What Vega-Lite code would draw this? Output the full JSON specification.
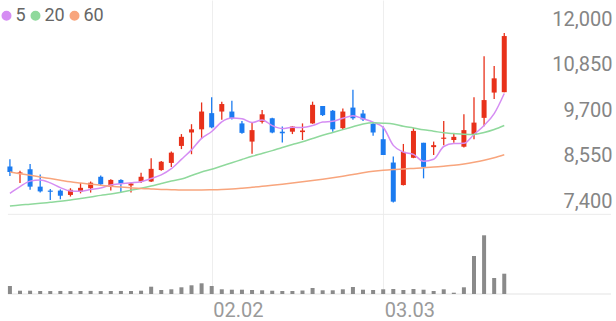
{
  "$schema": "https://vega.github.io/schema/vega-lite/v6.json",
  "width": 616,
  "height": 294,
  "autosize": {"type": "none"},
  "padding": {"left": 0, "top": 0, "right": 0, "bottom": 27},
  "background": "white",
  "config": {"view": {"stroke": null}, "font": "Roboto"},
  "datasets": {
    "k": [
      {"d":0,"date":"01.05","o":8610,"h":8790,"l":8370,"c":8470,"v":400000,"ma5":7930,"ma20":7610,"ma60":8471},
      {"d":1,"date":"01.06","o":8430,"h":8500,"l":8190,"c":8460,"v":165000,"ma5":8100,"ma20":7636,"ma60":8428},
      {"d":2,"date":"01.07","o":8540,"h":8670,"l":8020,"c":8100,"v":165000,"ma5":8240,"ma20":7656,"ma60":8387},
      {"d":3,"date":"01.08","o":8100,"h":8410,"l":7950,"c":7980,"v":150000,"ma5":8270,"ma20":7679,"ma60":8344},
      {"d":4,"date":"01.09","o":8000,"h":8040,"l":7760,"c":7970,"v":148000,"ma5":8196,"ma20":7704,"ma60":8304},
      {"d":5,"date":"01.12","o":8000,"h":8030,"l":7780,"c":7870,"v":152000,"ma5":8076,"ma20":7729,"ma60":8263},
      {"d":6,"date":"01.13","o":7890,"h":8060,"l":7850,"c":8020,"v":145000,"ma5":7988,"ma20":7762,"ma60":8223},
      {"d":7,"date":"01.14","o":7970,"h":8190,"l":7930,"c":8070,"v":150000,"ma5":7982,"ma20":7800,"ma60":8192},
      {"d":8,"date":"01.15","o":8060,"h":8230,"l":7950,"c":8200,"v":155000,"ma5":8026,"ma20":7838,"ma60":8162},
      {"d":9,"date":"01.16","o":8350,"h":8380,"l":8140,"c":8160,"v":146000,"ma5":8064,"ma20":7879,"ma60":8134},
      {"d":10,"date":"01.19","o":8100,"h":8290,"l":8000,"c":8270,"v":150000,"ma5":8144,"ma20":7914,"ma60":8111},
      {"d":11,"date":"01.20","o":8270,"h":8290,"l":7960,"c":8170,"v":152000,"ma5":8174,"ma20":7960,"ma60":8091},
      {"d":12,"date":"01.21","o":8130,"h":8200,"l":7950,"c":8180,"v":149000,"ma5":8196,"ma20":8008,"ma60":8071},
      {"d":13,"date":"01.22","o":8230,"h":8450,"l":8190,"c":8350,"v":165000,"ma5":8226,"ma20":8058,"ma60":8053},
      {"d":14,"date":"01.23","o":8230,"h":8820,"l":8220,"c":8550,"v":365000,"ma5":8304,"ma20":8116,"ma60":8041},
      {"d":15,"date":"01.26","o":8520,"h":8750,"l":8500,"c":8730,"v":200000,"ma5":8396,"ma20":8180,"ma60":8030},
      {"d":16,"date":"01.27","o":8700,"h":8990,"l":8600,"c":8960,"v":235000,"ma5":8554,"ma20":8243,"ma60":8023},
      {"d":17,"date":"01.28","o":9130,"h":9430,"l":9050,"c":9360,"v":335000,"ma5":8790,"ma20":8294,"ma60":8015},
      {"d":18,"date":"01.29","o":9470,"h":9680,"l":8920,"c":9550,"v":435000,"ma5":9030,"ma20":8382,"ma60":8015},
      {"d":19,"date":"01.30","o":9550,"h":10230,"l":9320,"c":10000,"v":535000,"ma5":9320,"ma20":8471,"ma60":8015},
      {"d":20,"date":"02.02","o":9960,"h":10360,"l":9580,"c":9600,"v":400000,"ma5":9494,"ma20":8539,"ma60":8020},
      {"d":21,"date":"02.03","o":10000,"h":10250,"l":9790,"c":10190,"v":235000,"ma5":9740,"ma20":8622,"ma60":8028},
      {"d":22,"date":"02.04","o":10000,"h":10270,"l":9800,"c":9830,"v":215000,"ma5":9834,"ma20":8703,"ma60":8041},
      {"d":23,"date":"02.05","o":9700,"h":9760,"l":9440,"c":9460,"v":215000,"ma5":9816,"ma20":8787,"ma60":8061},
      {"d":24,"date":"02.06","o":9240,"h":9710,"l":8930,"c":9530,"v":200000,"ma5":9722,"ma20":8868,"ma60":8084},
      {"d":25,"date":"02.09","o":9740,"h":10040,"l":9700,"c":9930,"v":185000,"ma5":9788,"ma20":8939,"ma60":8109},
      {"d":26,"date":"02.10","o":9830,"h":9840,"l":9450,"c":9470,"v":165000,"ma5":9644,"ma20":9012,"ma60":8134},
      {"d":27,"date":"02.11","o":9490,"h":9620,"l":9220,"c":9450,"v":150000,"ma5":9568,"ma20":9091,"ma60":8162},
      {"d":28,"date":"02.12","o":9490,"h":9630,"l":9430,"c":9620,"v":150000,"ma5":9600,"ma20":9164,"ma60":8192},
      {"d":29,"date":"02.13","o":9480,"h":9700,"l":9280,"c":9520,"v":175000,"ma5":9598,"ma20":9235,"ma60":8223},
      {"d":30,"date":"02.19","o":9700,"h":10250,"l":9690,"c":10170,"v":300000,"ma5":9646,"ma20":9318,"ma60":8256},
      {"d":31,"date":"02.20","o":10140,"h":10140,"l":9890,"c":9910,"v":185000,"ma5":9734,"ma20":9399,"ma60":8288},
      {"d":32,"date":"02.23","o":10020,"h":10040,"l":9490,"c":9550,"v":185000,"ma5":9754,"ma20":9470,"ma60":8324},
      {"d":33,"date":"02.24","o":9580,"h":10080,"l":9530,"c":10000,"v":235000,"ma5":9830,"ma20":9543,"ma60":8364},
      {"d":34,"date":"02.25","o":10100,"h":10550,"l":9790,"c":9830,"v":350000,"ma5":9892,"ma20":9614,"ma60":8407},
      {"d":35,"date":"02.26","o":9950,"h":10040,"l":9760,"c":9800,"v":215000,"ma5":9818,"ma20":9685,"ma60":8450},
      {"d":36,"date":"02.27","o":9690,"h":9710,"l":9390,"c":9470,"v":200000,"ma5":9730,"ma20":9715,"ma60":8488},
      {"d":37,"date":"03.03","o":9300,"h":9620,"l":8900,"c":8900,"v":235000,"ma5":9600,"ma20":9705,"ma60":8516},
      {"d":38,"date":"03.04","o":8710,"h":8860,"l":7700,"c":7720,"v":250000,"ma5":9144,"ma20":9685,"ma60":8534},
      {"d":39,"date":"03.05","o":8140,"h":9180,"l":8130,"c":8980,"v":200000,"ma5":8974,"ma20":9627,"ma60":8547},
      {"d":40,"date":"03.06","o":8830,"h":9590,"l":8820,"c":9510,"v":250000,"ma5":8916,"ma20":9584,"ma60":8562},
      {"d":41,"date":"03.09","o":9210,"h":9210,"l":8310,"c":8600,"v":215000,"ma5":8742,"ma20":9538,"ma60":8577},
      {"d":42,"date":"03.10","o":9100,"h":9240,"l":8900,"c":9150,"v":150000,"ma5":8792,"ma20":9503,"ma60":8597},
      {"d":43,"date":"03.11","o":9310,"h":9760,"l":9150,"c":9340,"v":235000,"ma5":9116,"ma20":9462,"ma60":8617},
      {"d":44,"date":"03.12","o":9280,"h":9450,"l":9210,"c":9360,"v":65000,"ma5":9192,"ma20":9442,"ma60":8640},
      {"d":45,"date":"03.13","o":9110,"h":9930,"l":9090,"c":9530,"v":335000,"ma5":9196,"ma20":9425,"ma60":8673},
      {"d":46,"date":"03.16","o":9410,"h":10360,"l":9300,"c":9720,"v":1900000,"ma5":9420,"ma20":9419,"ma60":8716},
      {"d":47,"date":"03.17","o":9840,"h":11400,"l":9630,"c":10290,"v":2935000,"ma5":9648,"ma20":9470,"ma60":8767},
      {"d":48,"date":"03.18","o":10480,"h":11150,"l":10320,"c":10840,"v":800000,"ma5":9948,"ma20":9546,"ma60":8830},
      {"d":49,"date":"03.19","o":10490,"h":11990,"l":10490,"c":11910,"v":1015000,"ma5":10458,"ma20":9647,"ma60":8906}
    ],
    "grid": [{"p": 12000}, {"p": 10850}, {"p": 9700}, {"p": 8550}]
  },
  "encoding": {
    "x": {"field": "d", "type": "quantitative",
      "scale": {"domain": [-0.4876, 59.58], "nice": false, "zero": false},
      "axis": {"values": [20, 37], "labelExpr": "datum.value == 20 ? '02.02' : '03.03'",
        "grid": true, "gridColor": "#eeeeee", "gridWidth": 1, "ticks": false, "domain": false,
        "labelAlign": "left", "labelBaseline": "alphabetic", "labelPadding": 22.5, "labelOffset": 1,
        "labelFont": "Roboto", "labelFontSize": 20, "labelColor": "#9a9a9a",
        "labelOverlap": false, "labelBound": false, "labelFlush": false, "title": null}}
  },
  "layer": [
    {
      "data": {"name": "grid"},
      "mark": {"type": "rule", "color": "#f0f0f0", "strokeWidth": 1},
      "encoding": {
        "y": {"field": "p", "type": "quantitative",
          "scale": {"domain": [5384, 12822], "nice": false, "zero": false},
          "axis": {"orient": "right", "values": [7400, 8550, 9700, 10850, 12000], "format": ",d",
            "grid": false, "ticks": false, "domain": false,
            "labelAlign": "right", "labelBaseline": "alphabetic", "labelPadding": -4, "labelOffset": -7,
            "labelFont": "Roboto", "labelFontSize": 20, "labelColor": "#858585",
            "labelOverlap": false, "labelBound": false, "labelFlush": false, "title": null}},
        "x": {"datum": -0.195, "type": "quantitative"},
        "x2": {"datum": 49.44}
      }
    },
    {
      "data": {"name": "k"},
      "transform": [{"filter": "datum.d == 0"}],
      "mark": {"type": "rule", "color": "#ebebeb", "strokeWidth": 1},
      "encoding": {
        "y": {"datum": 7400, "type": "quantitative", "scale": {"domain": [5384, 12822], "nice": false, "zero": false}, "axis": null},
        "x": {"datum": -0.195, "type": "quantitative"},
        "x2": {"datum": 59.58}
      }
    },
    {
      "data": {"name": "k"},
      "transform": [{"filter": "datum.d == 0"}],
      "mark": {"type": "rule", "color": "#e3e3e3", "strokeWidth": 1},
      "encoding": {
        "y": {"datum": 0, "type": "quantitative", "scale": {"domain": [0, 14700000], "nice": false, "zero": true}, "axis": null},
        "x": {"datum": -0.195, "type": "quantitative"},
        "x2": {"datum": 59.58}
      }
    },
    {
      "data": {"name": "k"},
      "mark": {"type": "bar", "size": 4, "color": "#8a8a8a"},
      "encoding": {
        "y": {"field": "v", "type": "quantitative", "scale": {"domain": [0, 14700000], "nice": false, "zero": true}, "axis": null}
      }
    },
    {
      "data": {"name": "k"},
      "mark": {"type": "rule", "strokeWidth": 1.3},
      "encoding": {
        "y": {"field": "l", "type": "quantitative", "scale": {"domain": [5384, 12822], "nice": false, "zero": false}, "axis": null},
        "y2": {"field": "h"},
        "color": {"condition": {"test": "datum.c >= datum.o", "value": "#e8311a"}, "value": "#1b7bf0"}
      }
    },
    {
      "data": {"name": "k"},
      "mark": {"type": "bar", "size": 5},
      "encoding": {
        "y": {"field": "o", "type": "quantitative", "scale": {"domain": [5384, 12822], "nice": false, "zero": false}, "axis": null},
        "y2": {"field": "c"},
        "color": {"condition": {"test": "datum.c >= datum.o", "value": "#e8311a"}, "value": "#1b7bf0"}
      }
    },
    {
      "data": {"name": "k"},
      "transform": [{"fold": ["ma5", "ma20", "ma60"], "as": ["ma", "val"]}],
      "mark": {"type": "line", "strokeWidth": 1.5, "interpolate": "monotone"},
      "encoding": {
        "y": {"field": "val", "type": "quantitative", "scale": {"domain": [5384, 12822], "nice": false, "zero": false}, "axis": null},
        "color": {"field": "ma", "type": "nominal",
          "scale": {"domain": ["ma5", "ma20", "ma60"], "range": ["#d58df3", "#8fd99c", "#f8a57d"]},
          "legend": {"orient": "none", "legendX": -2.5, "legendY": 6.5, "direction": "horizontal", "title": null,
            "symbolType": "circle", "symbolSize": 25, "symbolStrokeWidth": 5, "symbolOpacity": 1,
            "labelFont": "Roboto", "labelFontSize": 18, "labelColor": "#666666", "labelOffset": 0,
            "columnPadding": -4, "padding": 0, "labelExpr": "replace(datum.label, 'ma', '')"}}
      }
    }
  ],
  "resolve": {"scale": {"y": "independent"}}
}
